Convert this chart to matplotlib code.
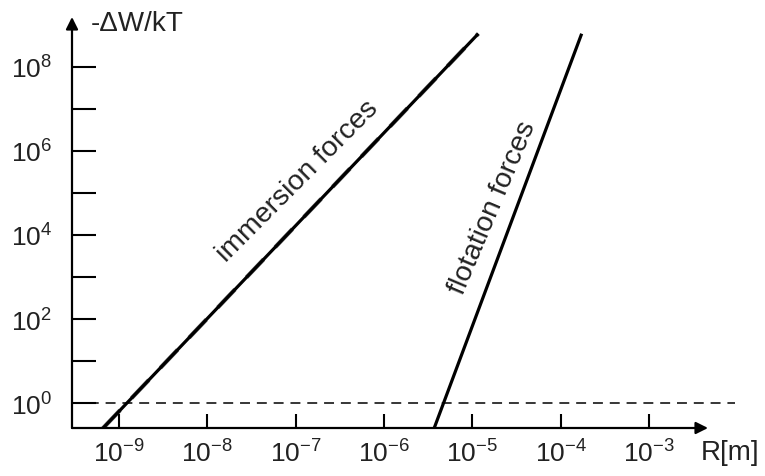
import matplotlib
matplotlib.use("Agg")
import matplotlib.pyplot as plt
import numpy as np

# ---- data ----
R_immersion = [6.6e-10, 1.17e-5]
W_immersion = [0.25, 6.2e8]
R_flotation = [3.7e-6, 1.73e-4]
W_flotation = [0.25, 6.2e8]
threshold_W = 1.0
threshold_R = [10**-9.53, 9.3e-3]
x_ticks = [1e-9, 1e-8, 1e-7, 1e-6, 1e-5, 1e-4, 1e-3]
x_ticklabels = [r"$\mathregular{10^{-9}}$", r"$\mathregular{10^{-8}}$", r"$\mathregular{10^{-7}}$",
                r"$\mathregular{10^{-6}}$", r"$\mathregular{10^{-5}}$", r"$\mathregular{10^{-4}}$",
                r"$\mathregular{10^{-3}}$"]
y_ticks = [1e0, 1e1, 1e2, 1e3, 1e4, 1e5, 1e6, 1e7, 1e8]
y_ticklabels = [r"$\mathregular{10^{0}}$", "", r"$\mathregular{10^{2}}$", "", r"$\mathregular{10^{4}}$", "",
                r"$\mathregular{10^{6}}$", "", r"$\mathregular{10^{8}}$"]

plt.rcParams['font.family'] = ['Liberation Sans', 'DejaVu Sans']
plt.rcParams['mathtext.fontset'] = 'custom'
plt.rcParams['mathtext.rm'] = 'Liberation Sans'
plt.rcParams['mathtext.it'] = 'Liberation Sans:italic'
plt.rcParams['mathtext.bf'] = 'Liberation Sans:bold'

W, H = 765, 477
fig = plt.figure(figsize=(W / 100, H / 100), dpi=100)
left, right, bottom_px, top_px = 72, 740, 429, 18
ax = fig.add_axes([left / W, 1 - bottom_px / H, (right - left) / W, (bottom_px - top_px) / H])
ax.set_xscale('log')
ax.set_yscale('log')
ax.set_xlim(10**-9.53, 10**-1.97)
ax.set_ylim(10**-0.595, 10**9.19)

ax.plot(R_immersion, W_immersion, color='black', lw=2.3, solid_capstyle='butt')
ax.plot(R_immersion, W_immersion, color='black', lw=3.0, ls=(0, (6, 4)), alpha=0.6)
ax.plot(R_flotation, W_flotation, color='black', lw=2.3, solid_capstyle='butt')
ax.plot(threshold_R, [threshold_W, threshold_W], color='black', lw=1.1, ls=(0, (6.5, 4.5)), clip_on=False)

for s in ax.spines.values():
    s.set_visible(False)

ax.set_xticks(x_ticks)
ax.set_xticklabels(x_ticklabels)
ax.set_yticks(y_ticks)
ax.set_yticklabels(y_ticklabels)
ax.minorticks_off()
ax.tick_params(axis='x', direction='in', length=10, width=1.5, pad=8, labelsize=19, colors='black')
ax.tick_params(axis='y', direction='in', length=17, width=1.5, pad=14.5, labelsize=19, colors='black')
for lab in ax.get_xticklabels() + ax.get_yticklabels():
    lab.set_color('#222222')

# axes arrows
x_tip = (708 - left) / (right - left)
ax.annotate('', xy=(x_tip, 0), xytext=(0, 0), xycoords='axes fraction',
            arrowprops=dict(arrowstyle='-|>', mutation_scale=18, lw=1.6, color='black',
                            shrinkA=0, shrinkB=0))
ax.annotate('', xy=(0, 1), xytext=(0, 0), xycoords='axes fraction',
            arrowprops=dict(arrowstyle='-|>', mutation_scale=18, lw=1.6, color='black',
                            shrinkA=0, shrinkB=0))

fig.text(91 / W, 1 - 24 / H, "-ΔW/kT", ha='left', va='center', fontsize=20, color='#222222')
fig.text(701 / W, 1 - 453 / H, "R[m]", ha='left', va='center', fontsize=20, color='#222222')

ax.text(10**-6.975, 10**5.29, "immersion forces", rotation=45, ha='center', va='center',
        fontsize=20.5, color='#222222', rotation_mode='anchor')
ax.text(10**-4.77, 10**4.67, "flotation forces", rotation=67, ha='center', va='center',
        fontsize=20.5, color='#222222', rotation_mode='anchor')

fig.savefig("out.png", dpi=100)
